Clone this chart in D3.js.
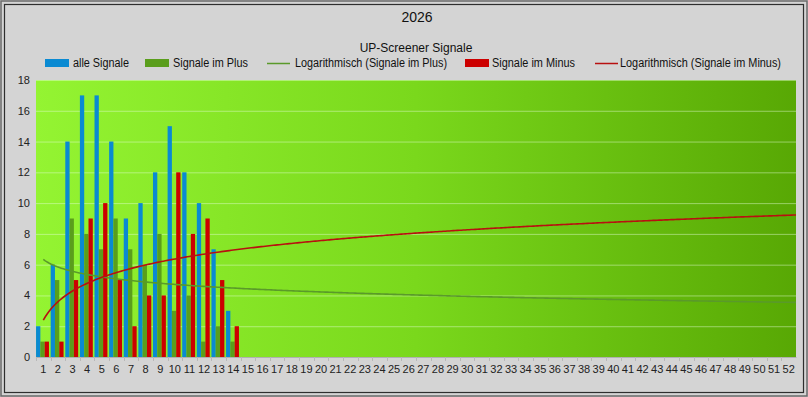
<!DOCTYPE html>
<html><head><meta charset="utf-8">
<script src="https://cdn.jsdelivr.net/npm/d3@7/dist/d3.min.js"></script>
<style>html,body{margin:0;padding:0;background:#d4d4d4;}svg{display:block;font-family:"Liberation Sans",Arial,sans-serif;}</style>
</head><body>
<script>
const weeks = d3.range(1, 53);
const alleSignale   = [2, 6, 14, 17, 17, 14, 9, 10, 12, 15, 12, 10, 7, 3];
const signalePlus   = [1, 5, 9, 8, 7, 9, 7, 6, 8, 3, 4, 1, 2, 1];
const signaleMinus  = [1, 1, 5, 9, 10, 5, 2, 4, 4, 12, 8, 9, 5, 2];
const yTicks = [0, 2, 4, 6, 8, 10, 12, 14, 16, 18];
const title = "2026";
const subtitle = "UP-Screener Signale";

const W = 808, H = 397;
const m = {left: 36, right: 12, top: 80, bottom: 40};
const svg = d3.select("body").append("svg").attr("width", W).attr("height", H);

svg.append("rect").attr("x",0).attr("y",0).attr("width",W).attr("height",H).attr("fill","#d4d4d4");
svg.append("rect").attr("x",1).attr("y",1).attr("width",W-2).attr("height",H-2).attr("fill","none").attr("stroke","#6a6a6a").attr("stroke-width",1.5);
svg.append("rect").attr("x",4.5).attr("y",4.5).attr("width",W-9).attr("height",H-9).attr("fill","none").attr("stroke","#2e2e2e").attr("stroke-width",1.2);

const x = d3.scaleBand().domain(weeks).range([m.left, W - m.right]).paddingInner(0).paddingOuter(0);
const y = d3.scaleLinear().domain([0, 18]).range([H - m.bottom, m.top]);

const defs = svg.append("defs");
const grad = defs.append("linearGradient").attr("id","bg").attr("x1","0").attr("x2","1").attr("y1","0").attr("y2","0");
grad.append("stop").attr("offset","0").attr("stop-color","#94f432");
grad.append("stop").attr("offset","0.5").attr("stop-color","#7ad81c");
grad.append("stop").attr("offset","1").attr("stop-color","#58a804");

svg.append("rect").attr("x", m.left).attr("y", m.top).attr("width", W - m.right - m.left).attr("height", H - m.bottom - m.top).attr("fill","url(#bg)");

// gridlines
svg.append("g").selectAll("line").data(yTicks.filter(d=>d>0)).join("line")
  .attr("x1", m.left).attr("x2", W - m.right)
  .attr("y1", d=>y(d)+0.5).attr("y2", d=>y(d)+0.5)
  .attr("stroke","rgba(230,255,220,0.45)").attr("stroke-width",1);

// y axis
const yAxis = d3.axisLeft(y).tickValues(yTicks).tickSize(0).tickPadding(6);
const gy = svg.append("g").attr("transform",`translate(${m.left},0)`).call(yAxis);
gy.select(".domain").remove();
gy.selectAll("text").attr("font-size",11).attr("fill","#222").attr("font-family","Liberation Sans, Arial, sans-serif");

// x axis
const xAxis = d3.axisBottom(x).tickSize(0).tickPadding(8);
const gx = svg.append("g").attr("transform",`translate(0,${H - m.bottom})`).call(xAxis);
gx.select(".domain").attr("stroke","#b0b0b0");
gx.selectAll("text").attr("font-size",11).attr("fill","#222").attr("font-family","Liberation Sans, Arial, sans-serif");
svg.append("g").selectAll("line").data(weeks).join("line")
  .attr("x1", d=>Math.round(x(d))+0.5).attr("x2", d=>Math.round(x(d))+0.5)
  .attr("y1", H-m.bottom).attr("y2", H-m.bottom+4).attr("stroke","#b8b8b8");

// bars
const sub = d3.scaleBand().domain(["alle","plus","minus"]).range([0, x.bandwidth()]).paddingInner(0).paddingOuter(0.2);
const series = [
  {key:"alle", vals: alleSignale, color:"#0a8ad2"},
  {key:"plus", vals: signalePlus, color:"#5a9e1c"},
  {key:"minus", vals: signaleMinus, color:"#cc0000"}
];
series.forEach(s => {
  svg.append("g").selectAll("rect").data(s.vals).join("rect")
    .attr("x", (d,i)=> x(weeks[i]) + sub(s.key) - 0.8)
    .attr("width", sub.bandwidth())
    .attr("y", d=>y(d)).attr("height", d=>y(0)-y(d))
    .attr("fill", s.color);
});

// logarithmic trendlines (least squares y = a ln x + b over the data points)
function logFit(vals){
  const xs = vals.map((d,i)=>Math.log(i+1));
  const mx = d3.mean(xs), my = d3.mean(vals);
  let sxy=0, sxx=0;
  xs.forEach((v,i)=>{ sxy += (v-mx)*(vals[i]-my); sxx += (v-mx)*(v-mx); });
  const a = sxy/sxx; return {a, b: my - a*mx};
}
const xc = w => x(w) + x.bandwidth()/2;
const xInv = px => (px - m.left)/x.step() + 0.5;
function trend(vals, color){
  const f = logFit(vals);
  const pts = d3.range(xc(1), W - m.right + 0.01, 2).map(px => [px, f.a*Math.log(xInv(px)) + f.b]);
  pts.push([W - m.right, f.a*Math.log(xInv(W-m.right)) + f.b]);
  svg.append("path").datum(pts)
    .attr("d", d3.line().x(d=>d[0]).y(d=>y(d[1])))
    .attr("fill","none").attr("stroke",color).attr("stroke-width",1.6);
}
trend(signalePlus, "#5a9a2a");
trend(signaleMinus, "#b81010");

// titles
svg.append("text").attr("x",417).attr("y",22).attr("text-anchor","middle").attr("font-size",14).attr("fill","#111").text(title);
svg.append("text").attr("x",416).attr("y",52).attr("text-anchor","middle").attr("font-size",12).attr("fill","#111").text(subtitle);

// legend
const legend = [
  {label:"alle Signale", color:"#0a8ad2", type:"rect", sx:45, tx:73, tw:56},
  {label:"Signale im Plus", color:"#5a9e1c", type:"rect", sx:145, tx:173, tw:75},
  {label:"Logarithmisch (Signale im Plus)", color:"#5a9a2a", type:"line", sx:267, tx:295, tw:152},
  {label:"Signale im Minus", color:"#cc0000", type:"rect", sx:465, tx:492, tw:83},
  {label:"Logarithmisch (Signale im Minus)", color:"#b81010", type:"line", sx:595, tx:620, tw:161}
];
const ly = 63;
legend.forEach(l => {
  if (l.type === "rect") svg.append("rect").attr("x", l.sx).attr("y", ly-4).attr("width", 24).attr("height", 8).attr("fill", l.color);
  else svg.append("line").attr("x1", l.sx).attr("x2", l.sx+23).attr("y1", ly+0.5).attr("y2", ly+0.5).attr("stroke", l.color).attr("stroke-width",1.5);
  svg.append("text").attr("x", l.tx).attr("y", ly+4).attr("font-size",12).attr("fill","#111")
    .attr("textLength", l.tw).attr("lengthAdjust","spacingAndGlyphs").text(l.label);
});
</script>
</body></html>
